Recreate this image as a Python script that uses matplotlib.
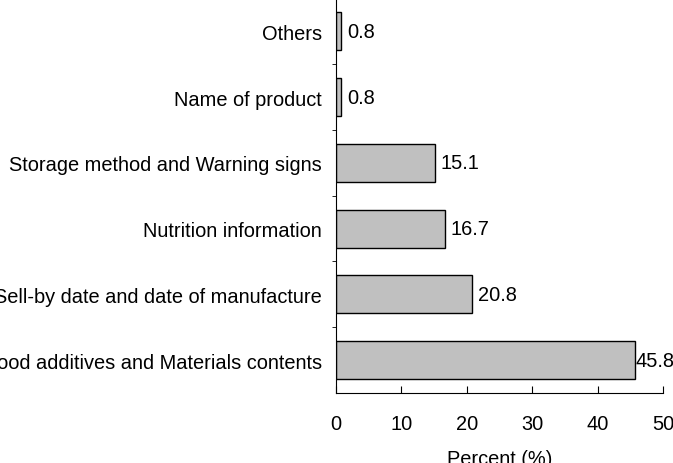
import numpy as np
import matplotlib.pyplot as plt
from matplotlib.ticker import FixedLocator

categories = ["Food additives and Materials contents",
              "Sell-by date and date of manufacture",
              "Nutrition information",
              "Storage method and Warning signs",
              "Name of product",
              "Others"]
values = [45.8, 20.8, 16.7, 15.1, 0.8, 0.8]
value_labels = ["45.8", "20.8", "16.7", "15.1", "0.8", "0.8"]
xticks = [0, 10, 20, 30, 40, 50]

plt.rcParams['font.family'] = ['Liberation Sans', 'DejaVu Sans']
fs = 14.4

fig = plt.figure(figsize=(6.73, 4.64), dpi=100)
ax = fig.add_axes([0.4993, 0.151, 0.4857, 0.85])

y = np.arange(len(categories))
ax.barh(y, values, height=0.58, color='#c0c0c0', edgecolor='black', linewidth=1)
for yi, v, s in zip(y, values, value_labels):
    # the last label sits almost on its bar in the reference
    off = 0 if v > 40 else 4
    ax.annotate(s, (v, yi), xytext=(off, 0), textcoords='offset points',
                va='center', ha='left', fontsize=fs)

ax.set_xlim(0, 50)
ax.set_ylim(-0.5, len(categories) - 0.5)
ax.set_xticks(xticks)
ax.set_yticks(y)
ax.set_yticklabels(categories, fontsize=fs)
ax.yaxis.set_minor_locator(FixedLocator(np.arange(1, len(categories) + 1) - 0.5))
ax.tick_params(axis='y', which='major', length=0, pad=10)
ax.tick_params(axis='y', which='minor', length=3, direction='out')
ax.tick_params(axis='x', direction='in', length=5, pad=15, labelsize=fs)
ax.set_xlabel("Percent (%)", fontsize=fs, labelpad=12)

for s in ['top', 'right']:
    ax.spines[s].set_visible(False)

fig.savefig("out.png", dpi=100)
